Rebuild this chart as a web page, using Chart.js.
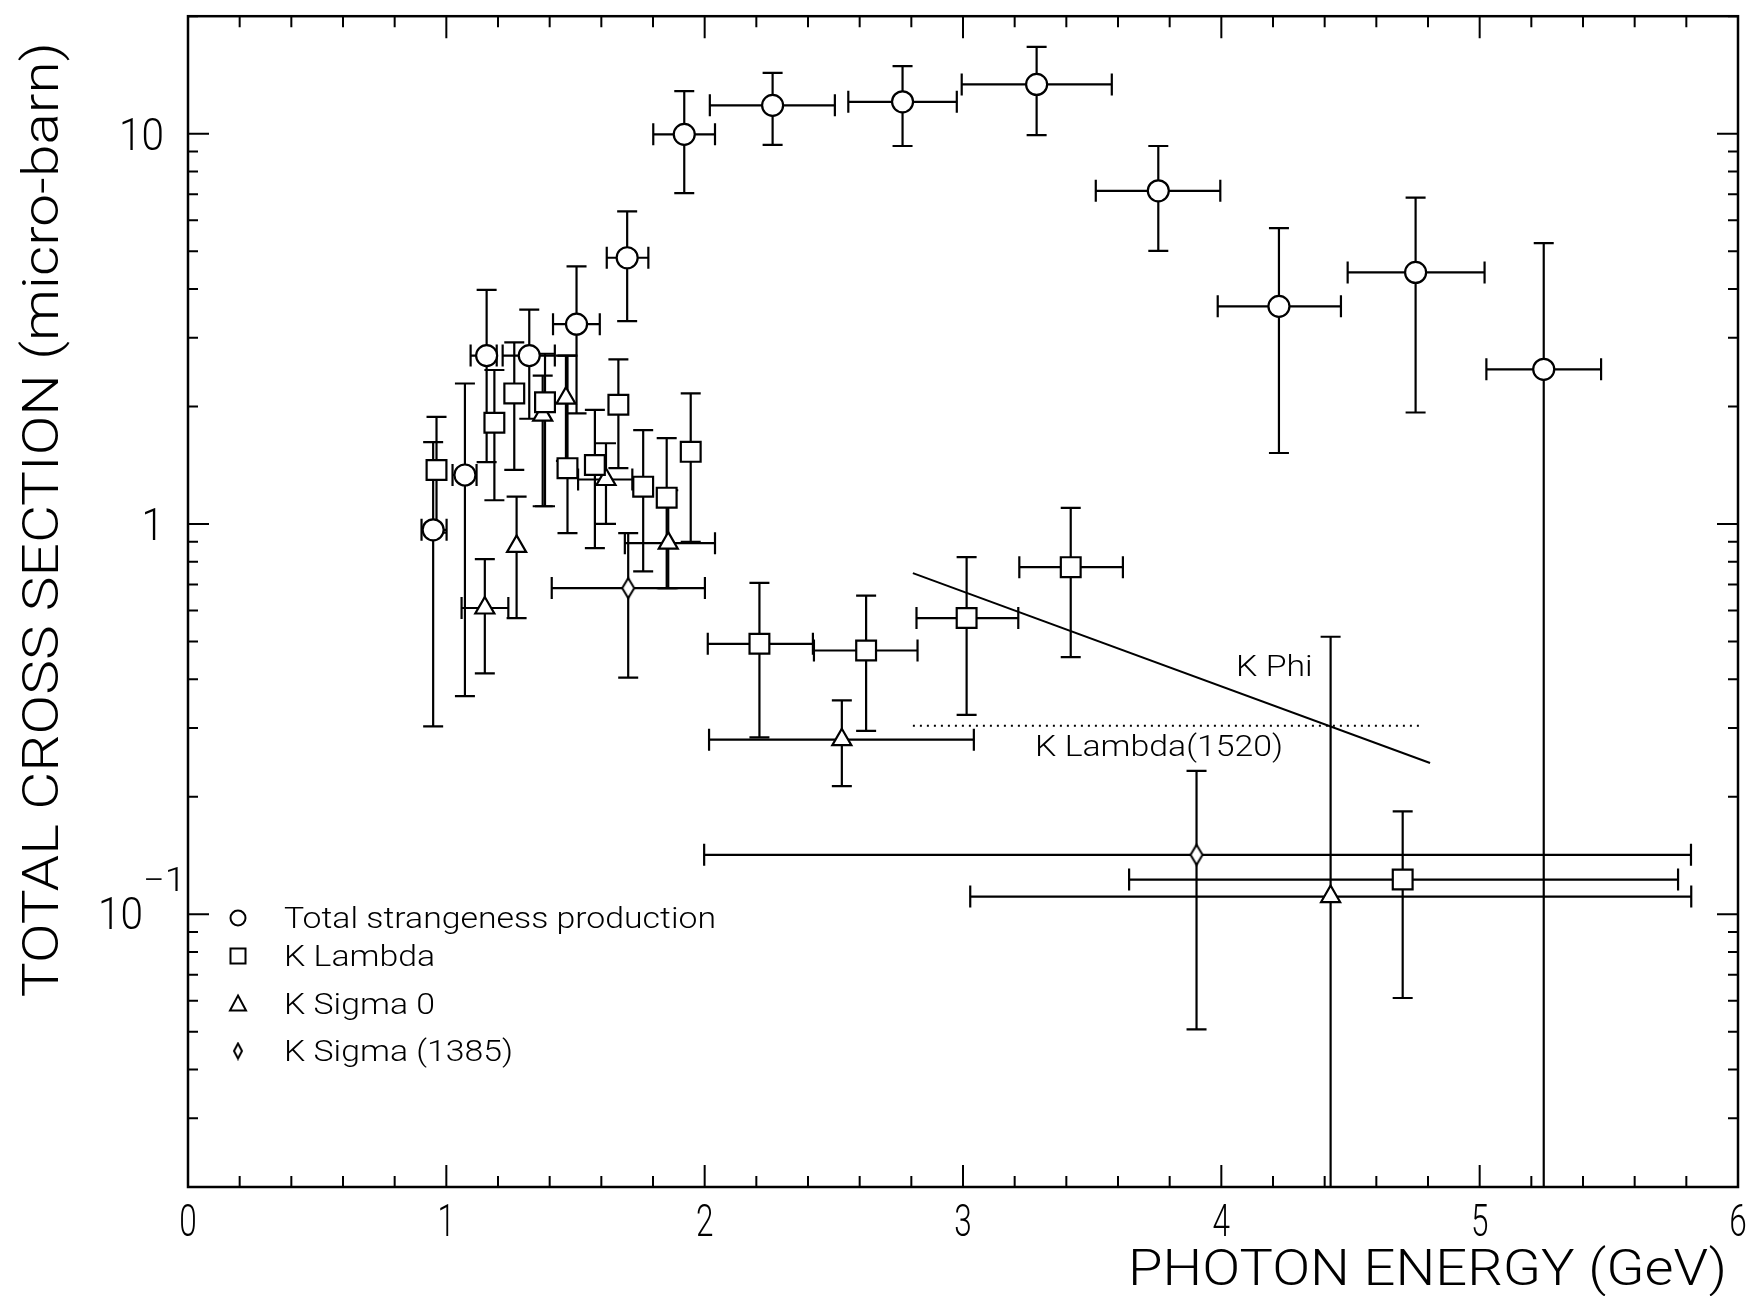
<!DOCTYPE html>
<html>
<head>
<meta charset="utf-8">
<title>Total strangeness photoproduction cross section</title>
<script src="https://cdn.jsdelivr.net/npm/chart.js@4.4.1/dist/chart.umd.min.js"></script>
<style>
  html, body { margin: 0; padding: 0; background: #fff; }
  #wrap { width: 1756px; height: 1296px; position: relative; }
</style>
</head>
<body>
<div id="wrap"><canvas id="xsec"></canvas></div>
<script>
// values: photon energy (GeV) vs cross section (micro-barn)

// Total strangeness production (circles)
const totX   = [0.949, 1.072, 1.156, 1.321, 1.504, 1.700, 1.921, 2.263, 2.766, 3.285, 3.756, 4.223, 4.752, 5.248];
const totY   = [0.966, 1.335, 2.70, 2.70, 3.25, 4.81, 9.96, 11.82, 12.07, 13.37, 7.14, 3.61, 4.41, 2.49];
const totYLo = [0.303, 0.362, 1.44, 1.86, 1.92, 3.31, 7.04, 9.36, 9.30, 9.91, 5.01, 1.52, 1.93, 0.001];
const totYHi = [1.62, 2.29, 3.98, 3.54, 4.57, 6.32, 12.85, 14.32, 14.89, 16.68, 9.30, 5.73, 6.86, 5.24];
const totXLo = [0.904, 1.024, 1.094, 1.218, 1.413, 1.621, 1.801, 2.020, 2.556, 2.995, 3.514, 3.986, 4.489, 5.026];
const totXHi = [1.001, 1.117, 1.195, 1.420, 1.594, 1.782, 2.040, 2.504, 2.976, 3.576, 3.996, 4.463, 5.019, 5.470];

// K Lambda (squares)
const klX   = [0.962, 1.186, 1.263, 1.382, 1.469, 1.575, 1.666, 1.762, 1.853, 1.946, 2.212, 2.625, 3.014, 3.417, 4.702];
const klY   = [1.375, 1.816, 2.16, 2.05, 1.39, 1.416, 2.02, 1.246, 1.168, 1.53, 0.493, 0.474, 0.574, 0.775, 0.1227];
const klYLo = [0.95, 1.15, 1.375, 1.11, 0.947, 0.867, 1.39, 0.756, 0.685, 0.90, 0.284, 0.295, 0.324, 0.456, 0.0610];
const klYHi = [1.88, 2.48, 2.92, 2.73, 2.70, 1.96, 2.64, 1.74, 1.66, 2.16, 0.706, 0.655, 0.822, 1.10, 0.1835];
const klXLo = [0.962, 1.186, 1.263, 1.382, 1.469, 1.575, 1.666, 1.762, 1.853, 1.946, 2.012, 2.423, 2.820, 3.218, 3.643];
const klXHi = [0.962, 1.186, 1.263, 1.382, 1.469, 1.575, 1.666, 1.762, 1.853, 1.946, 2.419, 2.824, 3.214, 3.619, 5.768];

// K Sigma 0 (triangles)
const ks0X   = [1.149, 1.272, 1.373, 1.463, 1.618, 1.859, 2.531, 4.423];
const ks0Y   = [0.609, 0.876, 1.90, 2.10, 1.30, 0.893, 0.280, 0.111];
const ks0YLo = [0.414, 0.574, 1.11, 1.45, 1.00, 0.685, 0.213, 0.001];
const ks0YHi = [0.813, 1.175, 2.40, 2.70, 1.61, 1.22, 0.353, 0.514];
const ks0XLo = [1.059, 1.272, 1.373, 1.463, 1.510, 1.691, 2.017, 3.028];
const ks0XHi = [1.240, 1.272, 1.373, 1.463, 1.720, 2.040, 3.042, 5.819];

// K Sigma(1385) (diamonds)
const ksX   = [1.704, 3.904];
const ksY   = [0.685, 0.142];
const ksYLo = [0.404, 0.0507];
const ksYHi = [0.947, 0.233];
const ksXLo = [1.408, 1.998];
const ksXHi = [2.001, 5.818];

// model curves
const kphiX = [2.806, 4.808];
const kphiY = [0.748, 0.244];
const kl1520X = [2.806, 4.778];
const kl1520Y = [0.304, 0.304];

// curve labels (anchored in data units)
const noteText = ['K Phi', 'K Lambda(1520)'];
const noteX = [4.057, 3.279];
const noteY = [0.407, 0.2545];

// axes
const xTickLabels = ['0', '1', '2', '3', '4', '5', '6'];
const yLabelVals = [0.1, 1, 10];
const yLabelBase = ['10', '1', '10'];
const yLabelExp  = ['\u22121', '', ''];
const xTitle = 'PHOTON ENERGY (GeV)';
const yTitle = 'TOTAL CROSS SECTION (micro-barn)';

const legendNames = ['Total strangeness production', 'K Lambda', 'K Sigma 0', 'K Sigma (1385)'];

const FONT = '"Roboto", "Liberation Sans", sans-serif';
const CAP = 10;

function setFont(ctx, size) { ctx.font = `300 ${size}px ${FONT}`; }

// draws text squeezed/stretched horizontally by sx
function text(ctx, str, x, y, size, sx, align) {
  ctx.save();
  setFont(ctx, size);
  ctx.textAlign = 'left';
  ctx.textBaseline = 'alphabetic';
  const w = ctx.measureText(str).width * sx;
  let x0 = x;
  if (align === 'right') x0 = x - w;
  else if (align === 'center') x0 = x - w / 2;
  ctx.translate(x0, y);
  ctx.scale(sx, 1);
  ctx.fillText(str, 0, 0);
  ctx.restore();
  return w;
}

function fit(ctx, str, size, width) {
  ctx.save();
  setFont(ctx, size);
  const w = ctx.measureText(str).width;
  ctx.restore();
  return width / w;
}

function diamond(w, h, lw) {
  const c = document.createElement('canvas');
  c.width = w + 2 * lw; c.height = h + 2 * lw;
  const g = c.getContext('2d');
  g.fillStyle = '#fff'; g.strokeStyle = '#000'; g.lineWidth = lw;
  g.beginPath();
  g.moveTo(c.width / 2, lw);
  g.lineTo(c.width - lw, c.height / 2);
  g.lineTo(c.width / 2, c.height - lw);
  g.lineTo(lw, c.height / 2);
  g.closePath();
  g.fill(); g.stroke();
  return c;
}

const pts = (xs, ys) => xs.map((x, i) => ({ x, y: ys[i] }));

function marker(label, xs, ys, style, radius, err) {
  return {
    label, data: pts(xs, ys),
    pointStyle: style, pointRadius: radius, pointHoverRadius: radius,
    backgroundColor: '#fff', borderColor: '#000', pointBorderWidth: 2.2,
    showLine: false, err,
  };
}

const errorBars = {
  id: 'errorBars',
  beforeDatasetsDraw(chart) {
    const { ctx, chartArea: a, scales: { x, y } } = chart;
    ctx.save();
    ctx.beginPath();
    ctx.rect(a.left, a.top, a.right - a.left, a.bottom - a.top);
    ctx.clip();
    ctx.strokeStyle = '#000';
    ctx.lineWidth = 2.2;
    chart.data.datasets.forEach(ds => {
      const e = ds.err;
      if (!e) return;
      e.x.forEach((xv, i) => {
        const px = x.getPixelForValue(xv), py = y.getPixelForValue(e.y[i]);
        const yl = y.getPixelForValue(e.yLo[i]), yh = y.getPixelForValue(e.yHi[i]);
        const xl = x.getPixelForValue(e.xLo[i]), xh = x.getPixelForValue(e.xHi[i]);
        ctx.beginPath();
        ctx.moveTo(px, yl); ctx.lineTo(px, yh);
        ctx.moveTo(px - CAP, yh); ctx.lineTo(px + CAP, yh);
        ctx.moveTo(px - CAP, yl); ctx.lineTo(px + CAP, yl);
        if (xh - xl > 1) {
          ctx.moveTo(xl, py); ctx.lineTo(xh, py);
          ctx.moveTo(xl, py - CAP - 1); ctx.lineTo(xl, py + CAP + 1);
          ctx.moveTo(xh, py - CAP - 1); ctx.lineTo(xh, py + CAP + 1);
        }
        ctx.stroke();
      });
    });
    ctx.restore();
  },
};

const frame = {
  id: 'frame',
  afterDraw(chart) {
    const { ctx, chartArea: a, scales: { x, y } } = chart;
    ctx.save();
    ctx.fillStyle = '#000';
    ctx.strokeStyle = '#000';

    // inward ticks on all four sides
    ctx.lineWidth = 2;
    ctx.beginPath();
    for (let i = 0; i <= 30; i++) {
      const p = x.getPixelForValue(i / 5);
      const L = i % 5 === 0 ? 22 : 11;
      ctx.moveTo(p, a.bottom); ctx.lineTo(p, a.bottom - L);
      ctx.moveTo(p, a.top); ctx.lineTo(p, a.top + L);
    }
    for (let d = -2; d <= 1; d++) {
      for (let m = 1; m <= 9; m++) {
        const v = m * Math.pow(10, d);
        if (v < y.min * 0.999 || v > y.max * 1.001) continue;
        const p = y.getPixelForValue(v);
        const L = m === 1 ? 21 : 10;
        ctx.moveTo(a.left, p); ctx.lineTo(a.left + L, p);
        ctx.moveTo(a.right, p); ctx.lineTo(a.right - L, p);
      }
    }
    ctx.stroke();

    ctx.lineWidth = 2.5;
    ctx.strokeRect(a.left, a.top, a.right - a.left, a.bottom - a.top);

    // x tick labels
    xTickLabels.forEach((t, i) => {
      text(ctx, t, x.getPixelForValue(i), a.bottom + 49, 45, 0.7, 'center');
    });

    // y tick labels
    yLabelVals.forEach((v, i) => {
      const p = y.getPixelForValue(v);
      if (yLabelExp[i]) {
        text(ctx, yLabelBase[i], a.left - 45, p + 15, 45, 0.9, 'right');
        text(ctx, yLabelExp[i], a.left - 45, p - 23, 33, 1.15, 'left');
      } else {
        text(ctx, yLabelBase[i], a.left - 24, p + 16, 45, 0.9, 'right');
      }
    });

    // axis titles
    const sxX = fit(ctx, xTitle, 50, 599);
    text(ctx, xTitle, a.right - 11, a.bottom + 98, 50, sxX, 'right');
    const sxY = fit(ctx, yTitle, 50, 955);
    ctx.save();
    ctx.translate(58, a.top + 26);
    ctx.rotate(-Math.PI / 2);
    text(ctx, yTitle, 0, 0, 50, sxY, 'right');
    ctx.restore();

    // curve labels
    const sxL = fit(ctx, legendNames[0], 30, 432);
    noteText.forEach((t, i) => {
      text(ctx, t, x.getPixelForValue(noteX[i]), y.getPixelForValue(noteY[i]), 30, sxL, 'left');
    });

    // legend
    const rows = [918, 956, 1004, 1051];
    const mx = a.left + 50, tx = a.left + 96;
    ctx.lineWidth = 2;
    rows.forEach((ry, i) => {
      ctx.beginPath();
      if (i === 0) ctx.arc(mx, ry, 7.5, 0, 2 * Math.PI);
      else if (i === 1) ctx.rect(mx - 7.5, ry - 7.5, 15, 15);
      else if (i === 2) {
        ctx.moveTo(mx, ry - 8.5); ctx.lineTo(mx + 8, ry + 6.5); ctx.lineTo(mx - 8, ry + 6.5); ctx.closePath();
      }
      if (i < 3) ctx.stroke();
      else ctx.drawImage(legendDiamond, mx - legendDiamond.width / 2, ry - legendDiamond.height / 2);
      text(ctx, legendNames[i], tx, ry + 10, 30, sxL, 'left');
    });
    ctx.restore();
  },
};

const dataDiamond = diamond(12, 20, 2);
const legendDiamond = diamond(8, 15, 2);

new Chart(document.getElementById('xsec'), {
  type: 'scatter',
  data: {
    datasets: [
      {
        label: 'K Phi', data: pts(kphiX, kphiY), showLine: true,
        borderColor: '#000', borderWidth: 2, pointRadius: 0, fill: false,
      },
      {
        label: 'K Lambda(1520)', data: pts(kl1520X, kl1520Y), showLine: true,
        borderColor: '#000', borderWidth: 2, borderDash: [2, 5], pointRadius: 0, fill: false,
      },
      marker('Total strangeness production', totX, totY, 'circle', 10.5,
        { x: totX, y: totY, yLo: totYLo, yHi: totYHi, xLo: totXLo, xHi: totXHi }),
      marker('K Lambda', klX, klY, 'rect', 14,
        { x: klX, y: klY, yLo: klYLo, yHi: klYHi, xLo: klXLo, xHi: klXHi }),
      marker('K Sigma 0', ks0X, ks0Y, 'triangle', 11,
        { x: ks0X, y: ks0Y, yLo: ks0YLo, yHi: ks0YHi, xLo: ks0XLo, xHi: ks0XHi }),
      marker('K Sigma (1385)', ksX, ksY, dataDiamond, 10,
        { x: ksX, y: ksY, yLo: ksYLo, yHi: ksYHi, xLo: ksXLo, xHi: ksXHi }),
    ],
  },
  options: {
    responsive: true,
    maintainAspectRatio: false,
    animation: false,
    layout: { padding: { left: 188, top: 13, right: 18, bottom: 109 } },
    plugins: { legend: { display: false }, tooltip: { enabled: false } },
    scales: {
      x: { type: 'linear', min: 0, max: 6, display: false },
      y: { type: 'logarithmic', min: 0.02, max: 20, display: false },
    },
  },
  plugins: [errorBars, frame],
});
</script>
</body>
</html>
